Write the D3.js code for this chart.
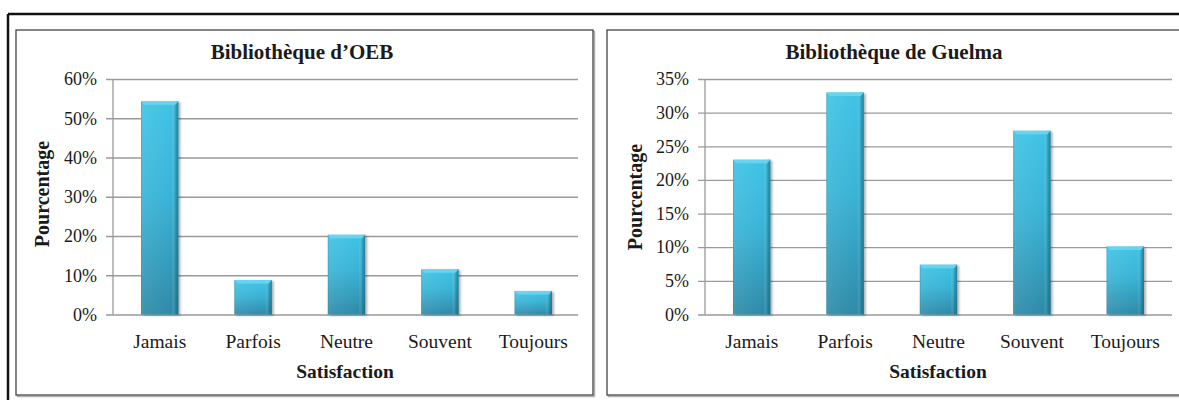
<!DOCTYPE html>
<html>
<head>
<meta charset="utf-8">
<script src="https://cdn.jsdelivr.net/npm/d3@7"></script>
<style>
  html, body { margin: 0; padding: 0; background: #fff; }
  svg { display: block; }
  text { font-family: "Liberation Serif", "Times New Roman", serif; fill: #1a1a1a; }
</style>
</head>
<body>
<svg id="chart" width="1179" height="400"></svg>
<script>
// ---- data ----
const categories = ["Jamais", "Parfois", "Neutre", "Souvent", "Toujours"];
const oebValues = [54.3, 8.8, 20.3, 11.5, 6.0];
const guelmaValues = [23.0, 33.0, 7.4, 27.3, 10.1];
const oebTicks = [0, 10, 20, 30, 40, 50, 60];
const guelmaTicks = [0, 5, 10, 15, 20, 25, 30, 35];
const titles = ["Bibliothèque d\u2019OEB", "Bibliothèque de Guelma"];
const xTitle = "Satisfaction";
const yTitle = "Pourcentage";

const svg = d3.select("#chart");
const defs = svg.append("defs");

// gradients
const vg = defs.append("linearGradient").attr("id", "barV")
  .attr("x1", 0).attr("y1", 0).attr("x2", 0).attr("y2", 1);
vg.append("stop").attr("offset", "0%").attr("stop-color", "#3fc3e5");
vg.append("stop").attr("offset", "45%").attr("stop-color", "#39b3d6");
vg.append("stop").attr("offset", "100%").attr("stop-color", "#2d8aa7");

const hg = defs.append("linearGradient").attr("id", "barH")
  .attr("x1", 0).attr("y1", 0).attr("x2", 1).attr("y2", 0);
hg.append("stop").attr("offset", "0%").attr("stop-color", "#1f6f88").attr("stop-opacity", 0.35);
hg.append("stop").attr("offset", "6%").attr("stop-color", "#ffffff").attr("stop-opacity", 0.08);
hg.append("stop").attr("offset", "82%").attr("stop-color", "#ffffff").attr("stop-opacity", 0.0);
hg.append("stop").attr("offset", "92%").attr("stop-color", "#1f6f88").attr("stop-opacity", 0.35);
hg.append("stop").attr("offset", "100%").attr("stop-color", "#175a70").attr("stop-opacity", 0.7);

const sh = defs.append("filter").attr("id", "shadow").attr("x", "-20%").attr("y", "-5%")
  .attr("width", "150%").attr("height", "115%");
sh.append("feDropShadow").attr("dx", 2).attr("dy", 1).attr("stdDeviation", 1.2)
  .attr("flood-color", "#000").attr("flood-opacity", 0.3);

// outer frame
svg.append("line").attr("x1", 8).attr("x2", 1179).attr("y1", 14).attr("y2", 14)
  .attr("stroke", "#111").attr("stroke-width", 2.5);
svg.append("line").attr("x1", 8).attr("x2", 8).attr("y1", 14).attr("y2", 400)
  .attr("stroke", "#111").attr("stroke-width", 2.5);

function panel(cfg) {
  const g = svg.append("g");
  // panel border with light shadow
  g.append("rect").attr("x", cfg.px + 1.5).attr("y", cfg.py + 1.5)
    .attr("width", cfg.pw).attr("height", cfg.ph)
    .attr("fill", "none").attr("stroke", "#b0b0b0").attr("stroke-width", 1.5);
  g.append("rect").attr("x", cfg.px).attr("y", cfg.py)
    .attr("width", cfg.pw).attr("height", cfg.ph)
    .attr("fill", "#fff").attr("stroke", "#444").attr("stroke-width", 1.3);

  const x = d3.scaleBand().domain(categories).range([cfg.x0, cfg.x1]).paddingInner(0.6).paddingOuter(0.3);
  const y = d3.scaleLinear().domain([0, d3.max(cfg.ticks)]).range([cfg.yb, cfg.yt]);

  // gridlines + y axis
  const yAxis = d3.axisLeft(y).tickValues(cfg.ticks).tickFormat(d => d + "%")
    .tickSize(-(cfg.xg1 - cfg.x0)).tickPadding(16);
  const ya = g.append("g").attr("transform", `translate(${cfg.x0},0)`).call(yAxis);
  ya.select(".domain").remove();
  ya.selectAll(".tick line").attr("stroke", "#9a9a9a").attr("stroke-width", 1.3)
    .attr("x1", -7);
  ya.selectAll(".tick text").attr("font-size", 18).attr("fill", "#1a1a1a")
    .style("font-family", "'Liberation Serif', serif");
  g.append("line").attr("x1", cfg.x0).attr("x2", cfg.x0)
    .attr("y1", cfg.yt).attr("y2", cfg.yb)
    .attr("stroke", "#9a9a9a").attr("stroke-width", 1.3);

  // bars
  const bars = g.append("g").selectAll("g").data(categories.map((c, i) => ({c, v: cfg.values[i]})))
    .join("g");
  bars.append("rect")
    .attr("x", d => x(d.c)).attr("y", d => y(d.v))
    .attr("width", x.bandwidth()).attr("height", d => y(0) - y(d.v))
    .attr("fill", "url(#barV)").attr("filter", "url(#shadow)");
  bars.append("rect")
    .attr("x", d => x(d.c)).attr("y", d => y(d.v))
    .attr("width", x.bandwidth()).attr("height", d => y(0) - y(d.v))
    .attr("fill", "url(#barH)");
  // top bevel
  bars.append("path")
    .attr("d", d => {
      const bx = x(d.c), bw = x.bandwidth(), by = y(d.v);
      return `M${bx},${by} L${bx + bw},${by} L${bx + bw - 3},${by + 3.5} L${bx + 3},${by + 3.5} Z`;
    })
    .attr("fill", "#6ad6f2").attr("opacity", 0.9);

  // x axis labels
  const xAxis = d3.axisBottom(x).tickSize(0).tickPadding(20);
  const xa = g.append("g").attr("transform", `translate(0,${cfg.yb})`).call(xAxis);
  xa.select(".domain").remove();
  xa.selectAll(".tick text").attr("font-size", 19.5).attr("fill", "#1a1a1a")
    .style("font-family", "'Liberation Serif', serif");

  // titles
  g.append("text").attr("x", cfg.titleX).attr("y", 59).attr("text-anchor", "middle")
    .attr("font-size", 21).attr("font-weight", "bold").text(cfg.title);
  g.append("text").attr("x", cfg.xTitleX).attr("y", 378).attr("text-anchor", "middle")
    .attr("font-size", 19.5).attr("font-weight", "bold").text(xTitle);
  g.append("text").attr("transform", `translate(${cfg.yTitleX},${cfg.yTitleY}) rotate(-90)`)
    .attr("text-anchor", "middle").attr("font-size", 20).attr("font-weight", "bold").text(yTitle);
}

panel({
  px: 16, py: 30, pw: 577, ph: 365,
  x0: 113, x1: 580, xg1: 578, yt: 79, yb: 314.5,
  values: oebValues, ticks: oebTicks, title: titles[0],
  titleX: 302, xTitleX: 345, yTitleX: 49, yTitleY: 194
});
panel({
  px: 607, py: 30, pw: 590, ph: 365,
  x0: 705, x1: 1172, xg1: 1172, yt: 79, yb: 314.5,
  values: guelmaValues, ticks: guelmaTicks, title: titles[1],
  titleX: 894, xTitleX: 938, yTitleX: 642, yTitleY: 197
});
</script>
</body>
</html>
